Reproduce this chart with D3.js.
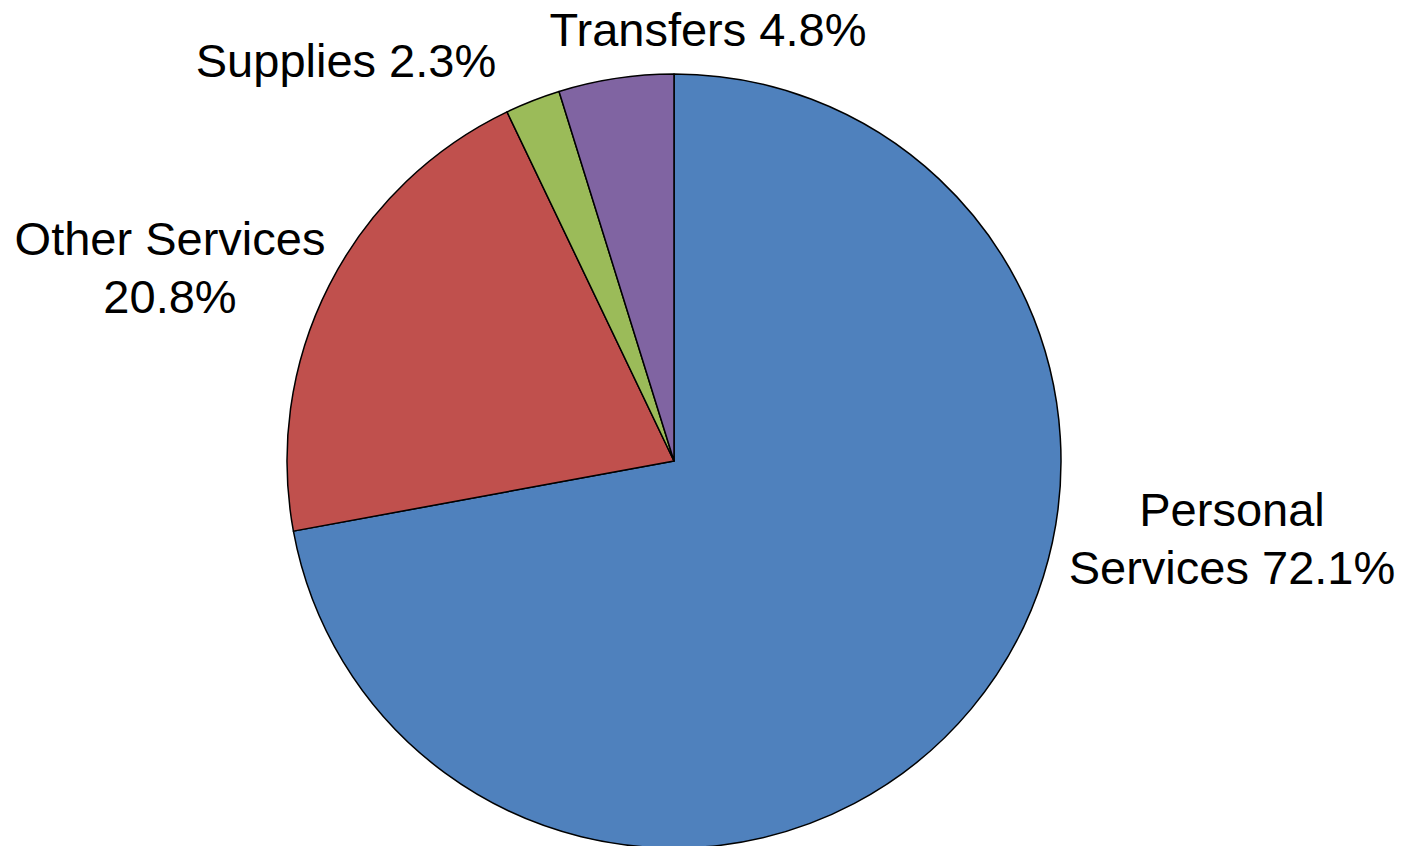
<!DOCTYPE html>
<html>
<head>
<meta charset="utf-8">
<script src="https://cdn.jsdelivr.net/npm/d3@7"></script>
<style>
  html, body { margin: 0; padding: 0; background: #ffffff; }
  svg { display: block; }
</style>
</head>
<body>
<svg id="chart" width="1412" height="846"></svg>
<script>
// ---- data ----
const categories = ["Personal Services", "Other Services", "Supplies", "Transfers"];
const values = [72.1, 20.8, 2.3, 4.8];
const labelLines = [
  ["Personal", "Services 72.1%"],
  ["Other Services", "20.8%"],
  ["Supplies 2.3%"],
  ["Transfers 4.8%"]
];
const colors = ["#4F81BD", "#C0504D", "#9BBB59", "#8064A2"];

// ---- layout (not data) ----
const width = 1412, height = 846;
const cx = 674, cy = 461, radius = 387;
const fontSize = 47, lineHeight = 57.5;
// label centres relative to pie centre (x centre, first baseline)
const labelOffsets = [
  [558, 65],
  [-504, -206],
  [-328, -384],
  [34, -415]
];

const svg = d3.select("#chart");
const g = svg.append("g").attr("transform", `translate(${cx},${cy})`);

const data = categories.map((c, i) => ({ name: c, value: values[i], lines: labelLines[i], color: colors[i], off: labelOffsets[i] }));

const pie = d3.pie().value(d => d.value).sort(null).startAngle(0).endAngle(2 * Math.PI);
const arc = d3.arc().innerRadius(0).outerRadius(radius);

g.selectAll("path.slice")
  .data(pie(data))
  .join("path")
  .attr("class", "slice")
  .attr("d", arc)
  .attr("fill", d => d.data.color)
  .attr("stroke", "#000")
  .attr("stroke-width", 1.5)
  .attr("stroke-linejoin", "round");

const labels = g.selectAll("text.label")
  .data(data)
  .join("text")
  .attr("class", "label")
  .attr("text-anchor", "middle")
  .attr("font-family", "'Liberation Sans', Arial, sans-serif")
  .attr("font-size", fontSize)
  .attr("fill", "#000")
  .attr("transform", d => `translate(${d.off[0]},${d.off[1]})`);

labels.selectAll("tspan")
  .data(d => d.lines)
  .join("tspan")
  .attr("x", 0)
  .attr("y", (d, i) => i * lineHeight)
  .text(d => d);
</script>
</body>
</html>
